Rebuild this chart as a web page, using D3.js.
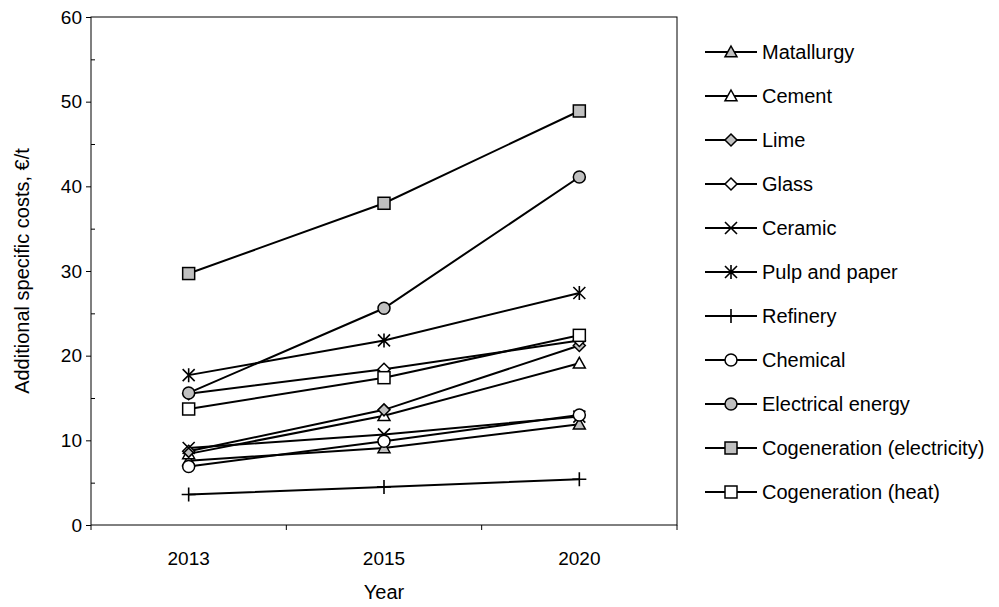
<!DOCTYPE html>
<html><head><meta charset="utf-8">
<script src="https://cdn.jsdelivr.net/npm/d3@7"></script>
<style>body{margin:0;background:#fff}text{font-family:"Liberation Sans",Arial,sans-serif;fill:#000}</style>
</head><body><svg id="c" width="999" height="607"></svg>
<script>
const years = ["2013","2015","2020"];
const seriesNames = ["Matallurgy","Cement","Lime","Glass","Ceramic","Pulp and paper","Refinery","Chemical","Electrical energy","Cogeneration (electricity)","Cogeneration (heat)"];
const matallurgy = [7.6, 9.1, 11.9];
const cement = [8.4, 12.9, 19.1];
const lime = [8.7, 13.6, 21.2];
const glass = [15.5, 18.4, 21.8];
const ceramic = [9.1, 10.7, 12.8];
const pulpPaper = [17.7, 21.8, 27.4];
const refinery = [3.6, 4.5, 5.4];
const chemical = [6.9, 9.9, 13.0];
const electrical = [15.6, 25.6, 41.1];
const cogenElec = [29.7, 38.0, 48.9];
const cogenHeat = [13.7, 17.4, 22.4];
const seriesValues = [matallurgy, cement, lime, glass, ceramic, pulpPaper, refinery, chemical, electrical, cogenElec, cogenHeat];
const markerTypes = ["triangle","triangle","diamond","diamond","x","asterisk","plus","circle","circle","square","square"];
const markerFills = ["#c0c0c0","#fff","#c0c0c0","#fff","none","none","none","#fff","#c0c0c0","#c0c0c0","#fff"];
const yTicks = [0,10,20,30,40,50,60];

const svg = d3.select("#c");
const L=91, R=677, T=17, B=525;
const x = d3.scaleBand().domain(years).range([L,R]);
const y = d3.scaleLinear().domain([0,60]).range([B,T]);

svg.append("rect").attr("x",L).attr("y",T).attr("width",R-L).attr("height",B-T).attr("fill","none").attr("stroke","#000").attr("stroke-width",1);

const ya = svg.append("g").attr("transform",`translate(${L},0)`).call(d3.axisLeft(y).tickValues(yTicks).tickSize(5).tickPadding(4));
ya.select(".domain").remove();
ya.selectAll("text").style("font-size","19px").style("font-family","Liberation Sans, Arial, sans-serif");
const ym = svg.append("g").attr("transform",`translate(${L},0)`).call(d3.axisRight(y).tickValues([5,15,25,35,45,55]).tickSize(4).tickFormat(""));
ym.select(".domain").remove();

const xa = svg.append("g").attr("transform",`translate(0,${B})`).call(d3.axisBottom(x).tickSize(0).tickPadding(27));
xa.select(".domain").remove();
xa.selectAll("text").style("font-size","19px").style("font-family","Liberation Sans, Arial, sans-serif");
const bounds = years.map(d=>x(d)).concat([R]);
svg.append("g").selectAll("line").data(bounds).join("line")
  .attr("x1",d=>d).attr("x2",d=>d).attr("y1",B).attr("y2",B+5).attr("stroke","#000");

svg.append("text").attr("x",(L+R)/2).attr("y",599).attr("text-anchor","middle").style("font-size","20px").text("Year");
svg.append("text").attr("transform",`translate(29,${(T+B)/2}) rotate(-90)`).attr("text-anchor","middle").style("font-size","20px").text("Additional specific costs, €/t");

function drawMarker(g, type, fill, cx, cy){
  const s=6;
  if(type==="triangle"){
    g.append("path").attr("d",`M${cx},${cy-s}L${cx+s},${cy+s*0.8}L${cx-s},${cy+s*0.8}Z`).attr("fill",fill).attr("stroke","#000").attr("stroke-width",1.5);
  } else if(type==="diamond"){
    g.append("path").attr("d",`M${cx},${cy-s}L${cx+s},${cy}L${cx},${cy+s}L${cx-s},${cy}Z`).attr("fill",fill).attr("stroke","#000").attr("stroke-width",1.5);
  } else if(type==="square"){
    g.append("rect").attr("x",cx-s).attr("y",cy-s).attr("width",2*s).attr("height",2*s).attr("fill",fill).attr("stroke","#000").attr("stroke-width",1.5);
  } else if(type==="circle"){
    g.append("circle").attr("cx",cx).attr("cy",cy).attr("r",s).attr("fill",fill).attr("stroke","#000").attr("stroke-width",1.5);
  } else if(type==="x"){
    g.append("path").attr("d",`M${cx-s},${cy-s}L${cx+s},${cy+s}M${cx-s},${cy+s}L${cx+s},${cy-s}`).attr("stroke","#000").attr("stroke-width",1.6);
  } else if(type==="asterisk"){
    const t=7;
    g.append("path").attr("d",`M${cx-s},${cy-s}L${cx+s},${cy+s}M${cx-s},${cy+s}L${cx+s},${cy-s}M${cx},${cy-t}L${cx},${cy+t}`).attr("stroke","#000").attr("stroke-width",1.6);
  } else if(type==="plus"){
    const t=7;
    g.append("path").attr("d",`M${cx-t},${cy}L${cx+t},${cy}M${cx},${cy-t}L${cx},${cy+t}`).attr("stroke","#000").attr("stroke-width",1.6);
  }
}

const line = d3.line().x((d,i)=>x(years[i])+x.bandwidth()/2).y(d=>y(d));
const plot = svg.append("g");
seriesValues.forEach((vals)=>{
  plot.append("path").attr("d",line(vals)).attr("fill","none").attr("stroke","#000").attr("stroke-width",2);
});
seriesValues.forEach((vals,k)=>{
  vals.forEach((v,i)=>drawMarker(plot, markerTypes[k], markerFills[k], x(years[i])+x.bandwidth()/2, y(v)));
});

const lg = svg.append("g");
seriesNames.forEach((n,k)=>{
  const ly = 52 + k*44;
  lg.append("line").attr("x1",705).attr("x2",757).attr("y1",ly).attr("y2",ly).attr("stroke","#000").attr("stroke-width",2);
  drawMarker(lg, markerTypes[k], markerFills[k], 731, ly);
  lg.append("text").attr("x",762).attr("y",ly+7).style("font-size","20px").text(n);
});
</script></body></html>
